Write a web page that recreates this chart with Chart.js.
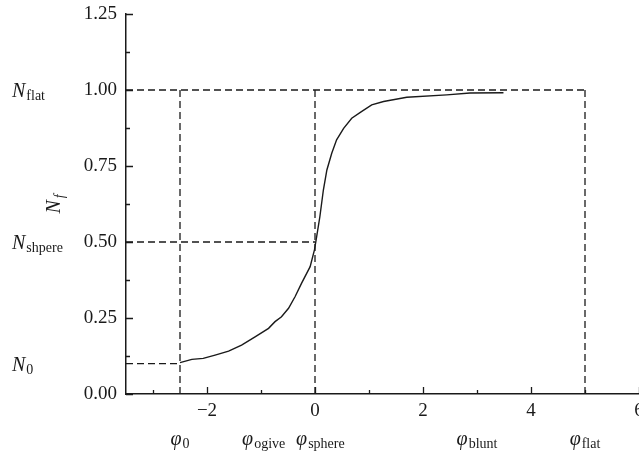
<!DOCTYPE html>
<html>
<head>
<meta charset="utf-8">
<script src="https://cdn.jsdelivr.net/npm/chart.js@4.4.0/dist/chart.umd.min.js"></script>
<style>
  html, body { margin: 0; padding: 0; background: #fff; overflow: hidden; }
  #wrap { width: 660px; height: 455px; position: relative; }
</style>
</head>
<body>
<div id="wrap"><canvas id="nfChart"></canvas></div>
<script>
// curve
const phiValues = [-2.5, -2.28, -2.07, -1.85, -1.6, -1.36, -1.11, -0.86, -0.74, -0.62, -0.49, -0.37, -0.25,
  -0.09, -0.01, 0.03, 0.09, 0.155, 0.22, 0.31, 0.40, 0.53, 0.68, 0.86, 1.05, 1.27, 1.70, 2.44, 2.87, 3.49];
const nfValues = [0.103, 0.114, 0.117, 0.128, 0.141, 0.161, 0.188, 0.216, 0.238, 0.254, 0.282, 0.32, 0.364,
  0.419, 0.474, 0.517, 0.583, 0.671, 0.737, 0.792, 0.836, 0.874, 0.907, 0.929, 0.951, 0.962, 0.976, 0.984, 0.990, 0.991];

const xMin = -3.5, xMax = 6;
const yMin = 0, yMax = 1.25;
const xTickValues = [-2, 0, 2, 4, 6];
const xMinorTicks = [-3, -1, 1, 3, 5];
const yTickValues = [0, 0.25, 0.5, 0.75, 1.0, 1.25];
const yMinorTicks = [0.125, 0.375, 0.625, 0.875, 1.125];

// reference levels (dashed guides)
const phi0 = -2.5, phiSphere = 0, phiFlat = 5;
const n0 = 0.1, nSphere = 0.5, nFlat = 1.0;

const leftLabels = [
  { y: nFlat, sub: 'flat' },
  { y: nSphere, sub: 'shpere' },
  { y: n0, sub: '0' }
];
const bottomLabels = [
  { x: -2.5, sub: '0' },
  { x: -0.95, sub: 'ogive' },
  { x: 0.1, sub: 'sphere' },
  { x: 3.0, sub: 'blunt' },
  { x: 5.0, sub: 'flat' }
];

const SERIF = '"Liberation Serif", "DejaVu Serif", serif';
const INK = '#1a1a1a';

function dashed(points) {
  return {
    data: points,
    showLine: true,
    borderColor: INK,
    borderWidth: 1.3,
    borderDash: [7, 4],
    pointRadius: 0,
    tension: 0
  };
}

function drawSubLabel(ctx, x, y, main, sub, align) {
  ctx.font = 'italic 20px ' + SERIF;
  const wMain = ctx.measureText(main).width;
  ctx.font = '14px ' + SERIF;
  const wSub = ctx.measureText(sub).width;
  let x0 = x;
  if (align === 'center') x0 = x - (wMain + wSub + 1) / 2;
  ctx.font = 'italic 20px ' + SERIF;
  ctx.fillText(main, x0, y);
  ctx.font = '14px ' + SERIF;
  ctx.fillText(sub, x0 + wMain + 1, y + 3);
}

const decorPlugin = {
  id: 'decor',
  afterDraw(chart) {
    const ctx = chart.ctx;
    const xs = chart.scales.x, ys = chart.scales.y;
    const area = chart.chartArea;
    ctx.save();
    ctx.strokeStyle = INK;
    ctx.lineWidth = 1.3;
    ctx.beginPath();
    xTickValues.forEach(v => {
      const px = Math.round(xs.getPixelForValue(v)) + 0.5;
      ctx.moveTo(px, area.bottom); ctx.lineTo(px, area.bottom - 7);
    });
    xMinorTicks.forEach(v => {
      const px = Math.round(xs.getPixelForValue(v)) + 0.5;
      ctx.moveTo(px, area.bottom); ctx.lineTo(px, area.bottom - 4);
    });
    yTickValues.forEach(v => {
      const py = Math.round(ys.getPixelForValue(v)) + 0.5;
      ctx.moveTo(area.left, py); ctx.lineTo(area.left + 7, py);
    });
    yMinorTicks.forEach(v => {
      const py = Math.round(ys.getPixelForValue(v)) + 0.5;
      ctx.moveTo(area.left, py); ctx.lineTo(area.left + 4, py);
    });
    ctx.stroke();

    ctx.fillStyle = INK;
    ctx.textBaseline = 'alphabetic';
    ctx.textAlign = 'left';
    leftLabels.forEach(l => {
      drawSubLabel(ctx, 12, ys.getPixelForValue(l.y) + 7, 'N', l.sub, 'left');
    });
    bottomLabels.forEach(l => {
      drawSubLabel(ctx, xs.getPixelForValue(l.x), 445, '\u03C6', l.sub, 'center');
    });

    // y axis title N_f, rotated
    ctx.translate(60, (area.top + area.bottom) / 2);
    ctx.rotate(-Math.PI / 2);
    ctx.font = 'italic 20px ' + SERIF;
    const wN = ctx.measureText('N').width;
    ctx.font = 'italic 14px ' + SERIF;
    const wF = ctx.measureText('f').width;
    const sx = -(wN + wF + 2) / 2;
    ctx.font = 'italic 20px ' + SERIF;
    ctx.fillText('N', sx, 0);
    ctx.font = 'italic 14px ' + SERIF;
    ctx.fillText('f', sx + wN + 2, 4);
    ctx.restore();
  }
};

const curvePoints = phiValues.map((x, i) => ({ x: x, y: nfValues[i] }));

new Chart(document.getElementById('nfChart'), {
  type: 'scatter',
  data: {
    datasets: [
      {
        data: curvePoints,
        showLine: true,
        borderColor: INK,
        borderWidth: 1.4,
        pointRadius: 0,
        tension: 0
      },
      dashed([{ x: xMin, y: nFlat }, { x: phiFlat, y: nFlat }]),
      dashed([{ x: phi0, y: 0 }, { x: phi0, y: nFlat }]),
      dashed([{ x: phiSphere, y: 0 }, { x: phiSphere, y: nFlat }]),
      dashed([{ x: phiFlat, y: 0 }, { x: phiFlat, y: nFlat }]),
      dashed([{ x: xMin, y: nSphere }, { x: phiSphere, y: nSphere }]),
      dashed([{ x: xMin, y: n0 }, { x: phi0, y: n0 }])
    ]
  },
  options: {
    responsive: true,
    maintainAspectRatio: false,
    animation: false,
    layout: {
      padding: { top: 14, right: 21, left: 0, bottom: 0 }
    },
    plugins: {
      legend: { display: false },
      tooltip: { enabled: false }
    },
    scales: {
      x: {
        type: 'linear',
        min: xMin,
        max: xMax,
        afterBuildTicks: scale => { scale.ticks = xTickValues.map(v => ({ value: v })); },
        afterFit: scale => { scale.height = 61; scale.paddingRight = 0; scale.paddingLeft = 0; },
        grid: { display: false, drawTicks: false },
        border: { display: true, color: INK, width: 1.5 },
        ticks: {
          padding: 6,
          color: INK,
          font: { family: SERIF, size: 19 },
          maxRotation: 0,
          callback: v => v < 0 ? '\u2212' + Math.abs(v) : String(v)
        }
      },
      y: {
        type: 'linear',
        min: yMin,
        max: yMax,
        afterBuildTicks: scale => { scale.ticks = yTickValues.map(v => ({ value: v })); },
        afterFit: scale => { scale.width = 126; scale.paddingTop = 0; scale.paddingBottom = 0; },
        grid: { display: false, drawTicks: false },
        border: { display: true, color: INK, width: 1.5 },
        ticks: {
          padding: 9,
          color: INK,
          font: { family: SERIF, size: 19 },
          callback: v => v.toFixed(2)
        }
      }
    }
  },
  plugins: [decorPlugin]
});
</script>
</body>
</html>
